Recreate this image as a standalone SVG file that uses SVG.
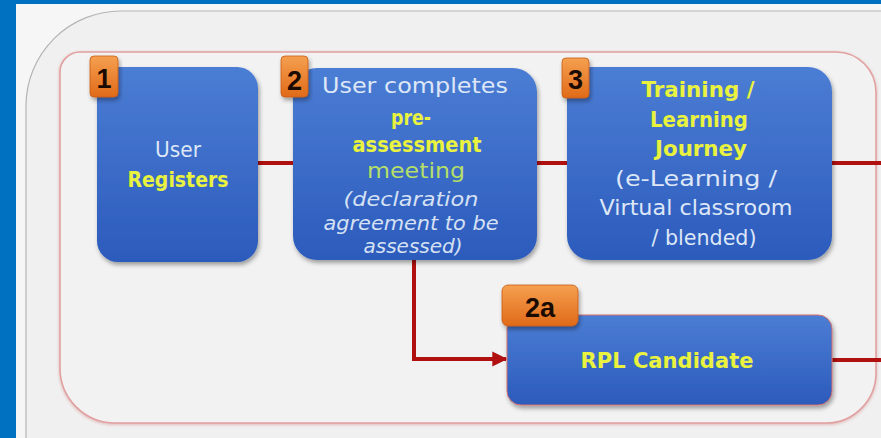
<svg xmlns="http://www.w3.org/2000/svg" width="881" height="438" viewBox="0 0 881 438">
  <defs>
    <linearGradient id="blueFill" x1="0" y1="0" x2="0" y2="1">
      <stop offset="0" stop-color="#4b7dd4"/>
      <stop offset="1" stop-color="#2c5bbc"/>
    </linearGradient>
    <linearGradient id="orangeFill" x1="0" y1="0" x2="0" y2="1">
      <stop offset="0" stop-color="#f5a050"/>
      <stop offset="1" stop-color="#e06a18"/>
    </linearGradient>
    <filter id="shadow" x="-10%" y="-10%" width="125%" height="130%">
      <feDropShadow dx="1.5" dy="3" stdDeviation="2.2" flood-color="#000" flood-opacity="0.35"/>
    </filter>
    <filter id="glow" x="-5%" y="-5%" width="110%" height="110%">
      <feDropShadow dx="0" dy="1" stdDeviation="1.5" flood-color="#c04040" flood-opacity="0.35"/>
    </filter>
    <marker id="arrow" viewBox="0 0 10 10" refX="9" refY="5" markerWidth="4.5" markerHeight="3.8" orient="auto" markerUnits="strokeWidth">
      <path d="M0,0 L10,5 L0,10 Z" fill="#b0100f"/>
    </marker>
    <style>
      .node { fill: url(#blueFill); filter: url(#shadow); }
      .badge { fill: url(#orangeFill); stroke: #c85a14; stroke-width: 0.8; filter: url(#shadow); }
      .num { font-family: "Liberation Sans", Arial, sans-serif; font-weight: bold; font-size: 27px; fill: #1a0a00; text-anchor: middle; }
      .t { font-family: "DejaVu Sans", sans-serif; text-anchor: middle; }
      .reg { font-size: 22px; fill: #dde7f7; }
      .bold { font-size: 20.5px; font-weight: bold; fill: #e9f23e; }
      .green { font-size: 22px; fill: #b4df68; }
      .ital { font-size: 19px; font-style: italic; fill: #d6e1f4; }
      .link { fill: none; stroke: #b0100f; stroke-width: 4; }
    </style>
  </defs>

  <!-- page and frame -->
  <rect x="0" y="0" width="881" height="438" fill="#f6f6f6"/>
  <path d="M26,445 V106 A95,95 0 0 1 121,11 H890 V445 Z" fill="#f0f0f0" stroke="#b4b4b4" stroke-width="1.2"/>
  <rect x="0" y="0" width="16" height="438" fill="#0070c0"/>
  <rect x="0" y="0" width="881" height="4" fill="#0070c0"/>

  <!-- process boundary -->
  <path d="M80,52 H836 A40,40 0 0 1 876,92 V373 A50,50 0 0 1 826,423 H115 A55,55 0 0 1 60,368 V72 A20,20 0 0 1 80,52 Z" fill="#f2f2f2" stroke="#e2a0a0" stroke-width="1.6" filter="url(#glow)"/>

  <!-- connectors -->
  <g id="connectors">
    <path class="link" d="M258,163 H293"/>
    <path class="link" d="M537,163 H567"/>
    <path class="link" d="M832,163 H885"/>
    <path class="link" d="M414,260 V359 H506" marker-end="url(#arrow)"/>
    <path class="link" d="M832,360 H885"/>
  </g>

  <!-- step 1 -->
  <g id="node-1">
    <rect class="node" x="97" y="67" width="161" height="195" rx="21"/>
    <rect class="badge" x="90" y="56" width="28" height="41" rx="4"/>
    <text class="num" x="104" y="88">1</text>
    <text class="t reg" x="178" y="157" textLength="46" lengthAdjust="spacingAndGlyphs">User</text>
    <text class="t bold" x="178" y="187" textLength="101" lengthAdjust="spacingAndGlyphs">Registers</text>
  </g>

  <!-- step 2 -->
  <g id="node-2">
    <rect class="node" x="293" y="68" width="244" height="192" rx="24"/>
    <rect class="badge" x="281" y="56" width="27" height="41" rx="4"/>
    <text class="num" x="294.5" y="90">2</text>
    <text class="t reg" x="415" y="93" textLength="186" lengthAdjust="spacingAndGlyphs">User completes</text>
    <text class="t bold" x="411" y="125" textLength="40" lengthAdjust="spacingAndGlyphs">pre-</text>
    <text class="t bold" x="417" y="152" textLength="129" lengthAdjust="spacingAndGlyphs">assessment</text>
    <text class="t green" x="416" y="178" textLength="98" lengthAdjust="spacingAndGlyphs">meeting</text>
    <text class="t ital" x="411" y="206" textLength="135" lengthAdjust="spacingAndGlyphs">(declaration</text>
    <text class="t ital" x="411" y="230" textLength="175" lengthAdjust="spacingAndGlyphs">agreement to be</text>
    <text class="t ital" x="413" y="253" textLength="99" lengthAdjust="spacingAndGlyphs">assessed)</text>
  </g>

  <!-- step 3 -->
  <g id="node-3">
    <rect class="node" x="567" y="67" width="265" height="193" rx="24"/>
    <rect class="badge" x="562" y="58" width="27" height="40" rx="4"/>
    <text class="num" x="575.5" y="89">3</text>
    <text class="t bold" x="698" y="97" textLength="113" lengthAdjust="spacingAndGlyphs">Training /</text>
    <text class="t bold" x="699" y="126.5" textLength="98" lengthAdjust="spacingAndGlyphs">Learning</text>
    <text class="t bold" x="701" y="156" textLength="92" lengthAdjust="spacingAndGlyphs">Journey</text>
    <text class="t reg" x="696" y="186" textLength="162" lengthAdjust="spacingAndGlyphs">(e-Learning /</text>
    <text class="t reg" x="696" y="215" textLength="193" lengthAdjust="spacingAndGlyphs">Virtual classroom</text>
    <text class="t reg" x="704" y="244.5" textLength="105" lengthAdjust="spacingAndGlyphs">/ blended)</text>
  </g>

  <!-- step 2a -->
  <g id="node-2a">
    <rect class="node" x="507" y="315" width="325" height="90" rx="14" stroke="#d27070" stroke-width="1"/>
    <rect class="badge" x="502" y="285" width="76" height="41" rx="6"/>
    <text class="num" x="540" y="317">2a</text>
    <text class="t bold" x="667" y="368" font-size="21.5" textLength="173" lengthAdjust="spacingAndGlyphs">RPL Candidate</text>
  </g>
</svg>
